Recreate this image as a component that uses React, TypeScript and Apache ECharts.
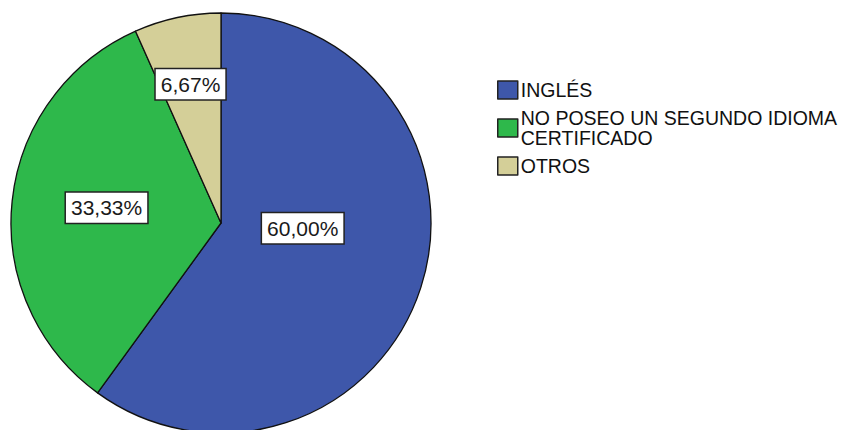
import React, { useEffect, useRef } from "react";
import * as echarts from "echarts";

const categories = ["INGLÉS", "NO POSEO UN SEGUNDO IDIOMA CERTIFICADO", "OTROS"];
const values = [60.0, 33.33, 6.67];
const colors = ["#3e57aa", "#2eb84b", "#d4cf98"];
const labelNudges = [
  [-21, -28],
  [-7, -4],
  [-8, -33],
];

export default function App() {
  const ref = useRef<HTMLDivElement>(null);
  useEffect(() => {
    if (!ref.current) return;
    const chart = echarts.init(ref.current, undefined, { renderer: "svg" });
    chart.setOption({
      animation: false,
      backgroundColor: "#ffffff",
      legend: {
        orient: "vertical",
        left: 492,
        top: 75,
        itemWidth: 20,
        itemHeight: 18,
        itemGap: 8,
        icon: "rect",
        itemStyle: { borderColor: "#222", borderWidth: 1.5 },
        textStyle: {
          fontFamily: "Liberation Sans, Arial, sans-serif",
          fontSize: 19.5,
          color: "#111",
          lineHeight: 20,
          padding: [0, 0, 0, -2],
        },
        formatter: (name: string) =>
          name === categories[1] ? "NO POSEO UN SEGUNDO IDIOMA\nCERTIFICADO" : name,
        data: categories,
      },
      series: [
        {
          type: "pie",
          center: [221, 223],
          radius: [0, 210],
          startAngle: 90,
          clockwise: true,
          silent: true,
          itemStyle: { borderColor: "#111", borderWidth: 1.3 },
          label: {
            position: "inside",
            formatter: (p: any) => p.value.toFixed(2).replace(".", ",") + "%",
            fontFamily: "Liberation Sans, Arial, sans-serif",
            fontSize: 21,
            color: "#1a1a1a",
            backgroundColor: "#ffffff",
            borderColor: "#222",
            borderWidth: 1.5,
            padding: [5, 5, 4, 5],
          },
          labelLine: { show: false },
          labelLayout: (params: any) => ({
            dx: labelNudges[params.dataIndex][0],
            dy: labelNudges[params.dataIndex][1],
          }),
          data: categories.map((name, i) => ({
            name,
            value: values[i],
            itemStyle: { color: colors[i] },
          })),
        },
      ],
    });
    return () => chart.dispose();
  }, []);
  return (
    <div
      ref={ref}
      style={{ position: "fixed", left: 0, top: 0, width: 847, height: 430 }}
    />
  );
}
